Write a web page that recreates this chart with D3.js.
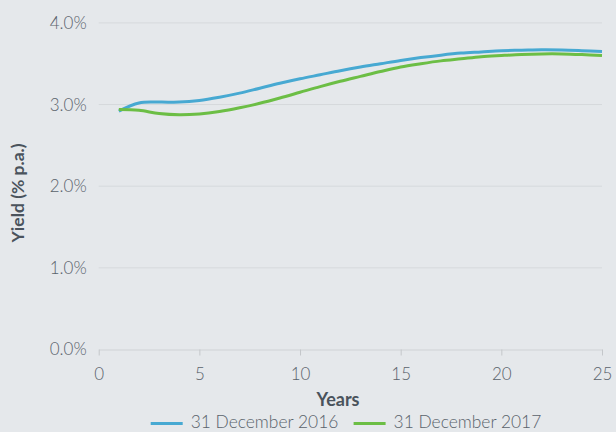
<!DOCTYPE html>
<html><head><meta charset="utf-8">
<script src="https://cdn.jsdelivr.net/npm/d3@7"></script>
<style>
html,body{margin:0;padding:0;background:#e5e8eb;}
svg{display:block;font-family:Lato, "Noto Sans", sans-serif;}
</style></head>
<body><svg id="c" width="616" height="432"></svg>
<script>
const years = [1,2,3,4,5,6,7,8,9,10,11,12,13,14,15,16,17,18,19,20,21,22,23,24,25];
const yield2016 = [2.92,3.02,3.03,3.03,3.05,3.09,3.14,3.20,3.26,3.315,3.365,3.415,3.46,3.50,3.54,3.575,3.605,3.63,3.645,3.66,3.665,3.67,3.668,3.66,3.65];
const yield2017 = [2.94,2.93,2.89,2.875,2.885,2.915,2.96,3.015,3.08,3.15,3.22,3.285,3.345,3.405,3.46,3.50,3.535,3.56,3.585,3.60,3.613,3.62,3.62,3.612,3.60];
const seriesNames = ["31 December 2016","31 December 2017"];
const xTicks = [0,5,10,15,20,25];
const yTicks = [0,1,2,3,4];

const colors = ["#47a9d2","#6cbe45"];
const textColor = "#5a636c";
const svg = d3.select("#c");
const x = d3.scaleLinear().domain([0,25]).range([98.7,602]);
const y = d3.scaleLinear().domain([0,4]).range([349.5,22.9]);

// grid
svg.append("g").selectAll("line").data(yTicks.filter(d=>d>0)).join("line")
  .attr("x1",x(0)).attr("x2",x(25)).attr("y1",d=>y(d)).attr("y2",d=>y(d))
  .attr("stroke","#d6d9dc").attr("stroke-width",1);

// x axis
const xa = svg.append("g").attr("transform",`translate(0,${y(0)})`)
  .call(d3.axisBottom(x).tickValues(xTicks).tickSize(6).tickPadding(12).tickSizeOuter(0));
xa.select(".domain").attr("stroke","#cfd2d5");
xa.selectAll(".tick line").attr("stroke","#c4c7ca");
xa.selectAll("text").attr("font-size",17).attr("font-weight",300).attr("fill",textColor).attr("font-family","Lato, sans-serif");

// y axis labels
const ya = svg.append("g").attr("transform",`translate(${x(0)},0)`)
  .call(d3.axisLeft(y).tickValues(yTicks).tickFormat(d=>d.toFixed(1)+"%").tickSize(0).tickPadding(12));
ya.select(".domain").remove();
ya.selectAll("text").attr("font-size",17).attr("font-weight",300).attr("fill",textColor).attr("font-family","Lato, sans-serif");

// lines
const line = d3.line().x(d=>x(d[0])).y(d=>y(d[1])).curve(d3.curveCatmullRom.alpha(0.5));
[yield2016,yield2017].forEach((vals,i)=>{
  svg.append("path").datum(years.map((yr,j)=>[yr,vals[j]]))
    .attr("d",line).attr("fill","none").attr("stroke",colors[i]).attr("stroke-width",3);
});

// axis titles
svg.append("text").attr("x",338).attr("y",405.5).attr("text-anchor","middle")
  .attr("font-size",18).attr("font-weight",700).attr("fill","#4a535c").text("Years");
svg.append("text").attr("transform",`translate(24,193) rotate(-90)`).attr("text-anchor","middle")
  .attr("font-size",17.5).attr("font-weight",700).attr("fill","#4a535c").text("Yield (% p.a.)");

// legend
const legX = [150.7, 353.6];
seriesNames.forEach((n,i)=>{
  const g = svg.append("g").attr("transform",`translate(${legX[i]},423.5)`);
  g.append("line").attr("x1",0).attr("x2",32).attr("stroke",colors[i]).attr("stroke-width",3);
  g.append("text").attr("x",40).attr("y",4.5).attr("font-size",17.4).attr("font-weight",300)
    .attr("fill",textColor).text(n);
});
</script></body></html>
